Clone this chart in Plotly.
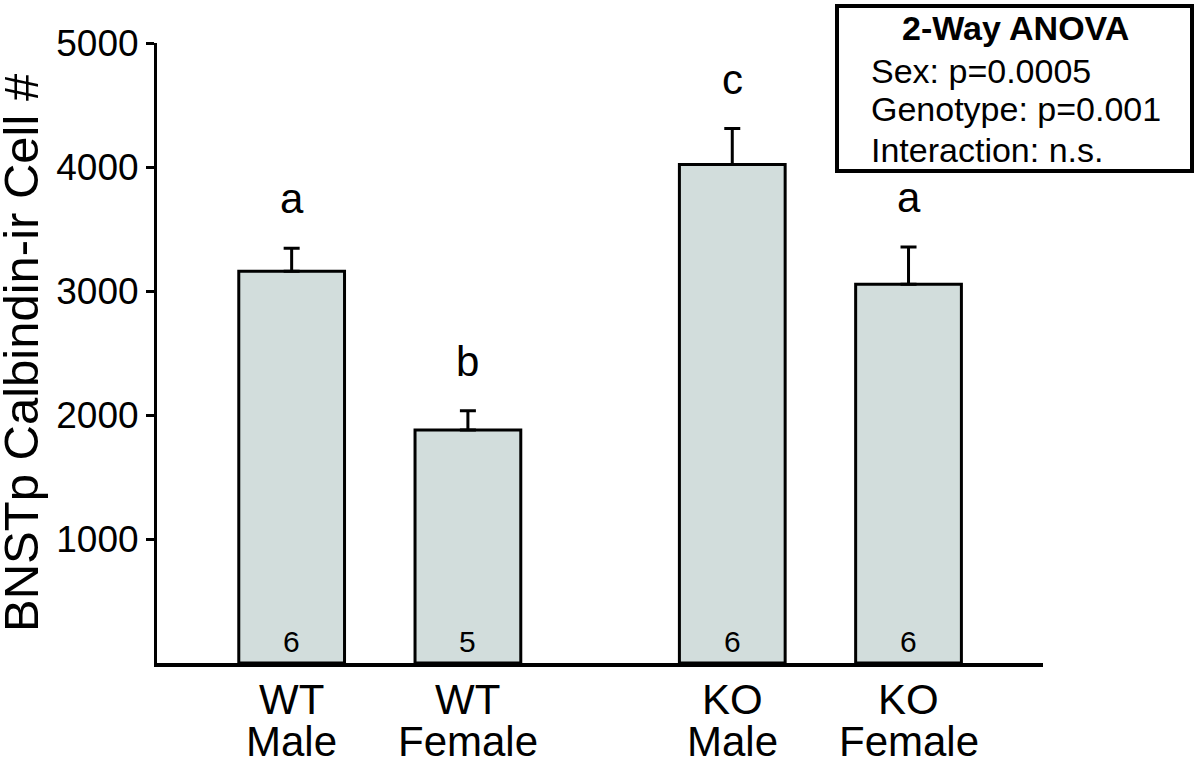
import plotly.graph_objects as go

# ---- data ----
genotype = ["WT", "WT", "KO", "KO"]
sex = ["Male", "Female", "Male", "Female"]
x_pos = [1, 2, 3.5, 4.5]
means = [3160, 1880, 4020, 3055]
sems = [185, 155, 290, 300]
n_counts = ["6", "5", "6", "6"]
sig_letters = ["a", "b", "c", "a"]
y_ticks = [1000, 2000, 3000, 4000, 5000]
anova_title = "2-Way ANOVA"
anova_lines = ["Sex: p=0.0005", "Genotype: p=0.001", "Interaction: n.s."]
y_title = "BNSTp Calbindin-ir Cell #"

FONT = "Liberation Sans, Arial, Helvetica, sans-serif"
W, H = 1200, 759
L, R, T, B = 157, 157, 43, 96
PW, PH = W - L - R, H - T - B


def px_x(px):
    return (px - L) / PW


def px_y(py):
    return (H - B - py) / PH


fig = go.Figure()
fig.add_trace(go.Bar(
    x=x_pos, y=means, width=0.6,
    marker=dict(color="#d2dddc", line=dict(color="black", width=3)),
    error_y=dict(type="data", symmetric=False, array=sems,
                 arrayminus=[0] * len(sems), color="black",
                 thickness=3, width=8),
    hoverinfo="skip", showlegend=False,
))

ann = []
# category labels (two rows)
for xp, g, s in zip(x_pos, genotype, sex):
    ann.append(dict(x=xp, xref="x", y=px_y(699), yref="paper", text=g,
                    showarrow=False, xanchor="center", yanchor="middle",
                    font=dict(family=FONT, size=42, color="black")))
    ann.append(dict(x=xp, xref="x", y=px_y(741), yref="paper", text=s,
                    showarrow=False, xanchor="center", yanchor="middle",
                    font=dict(family=FONT, size=42, color="black")))
# n counts in bars
for xp, n in zip(x_pos, n_counts):
    ann.append(dict(x=xp, y=0, xref="x", yref="y", text=n, showarrow=False,
                    xanchor="center", yanchor="bottom", yshift=3,
                    font=dict(family=FONT, size=30, color="black")))
# significance letters
for xp, m, e, lt in zip(x_pos, means, sems, sig_letters):
    ann.append(dict(x=xp, y=m + e, xref="x", yref="y", text=lt, showarrow=False,
                    xanchor="center", yanchor="bottom", yshift=24,
                    font=dict(family=FONT, size=42, color="black")))
# y title
ann.append(dict(x=px_x(21), xref="paper", y=0.5, yref="paper", text=y_title,
                textangle=-90, showarrow=False, xanchor="center", yanchor="middle",
                font=dict(family=FONT, size=49, color="black")))
# ANOVA box text
ann.append(dict(x=px_x(1015), xref="paper", y=px_y(28), yref="paper",
                text="<b>" + anova_title + "</b>", showarrow=False,
                xanchor="center", yanchor="middle",
                font=dict(family=FONT, size=34, color="black")))
for i, line in enumerate(anova_lines):
    ann.append(dict(x=px_x(869), xref="paper", y=px_y([71, 109, 150][i]), yref="paper",
                    text=line, showarrow=False, xanchor="left", yanchor="middle",
                    font=dict(family=FONT, size=34, color="black")))

fig.update_layout(
    width=W, height=H,
    margin=dict(l=L, r=R, t=T, b=B, autoexpand=False),
    paper_bgcolor="white", plot_bgcolor="white",
    annotations=ann,
    shapes=[dict(type="rect", xref="paper", yref="paper",
                 x0=px_x(837), x1=px_x(1192), y0=px_y(171), y1=px_y(6),
                 line=dict(color="black", width=4), fillcolor="rgba(0,0,0,0)")],
    xaxis=dict(range=[0.236, 5.263], showline=True, linecolor="black", linewidth=3.5,
               showgrid=False, zeroline=False, showticklabels=False, ticks=""),
    yaxis=dict(range=[0, 5000], tickvals=y_ticks, ticks="outside", ticklen=8,
               tickwidth=3, tickcolor="black", showline=True, linecolor="black",
               linewidth=3, showgrid=False, zeroline=False,
               tickfont=dict(family=FONT, size=37, color="black")),
)

fig.write_html("out.html", config={"displayModeBar": False},
               post_script="document.body.style.margin='0';")
